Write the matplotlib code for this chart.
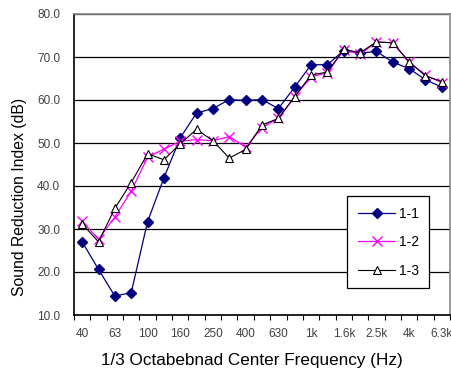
import numpy as np
import matplotlib
matplotlib.use('Agg')
import matplotlib.pyplot as plt

plt.rcParams['font.family'] = ['Liberation Sans', 'DejaVu Sans']

# 1/3 octave band centre frequencies
bands = ['40', '50', '63', '80', '100', '125', '160', '200', '250', '315', '400', '500',
         '630', '800', '1k', '1.25k', '1.6k', '2k', '2.5k', '3.15k', '4k', '5k', '6.3k']

# sound reduction index per band (dB)
s11 = [27.0, 20.6, 14.4, 15.2, 31.7, 41.9, 51.2, 57.0, 58.0, 60.1, 59.9, 60.1,
       58.0, 63.0, 68.2, 68.2, 71.5, 70.9, 71.3, 68.8, 67.3, 64.7, 63.0]
s12 = [31.8, 27.6, 32.8, 38.8, 46.7, 48.6, 50.4, 50.8, 50.5, 51.5, 49.0, 53.6,
       55.7, 60.7, 65.4, 66.3, 71.7, 70.6, 73.5, 73.3, 68.8, 65.8, 64.0]
s13 = [31.2, 27.0, 34.8, 40.8, 47.5, 46.1, 49.8, 53.2, 50.5, 46.5, 48.5, 54.2,
       55.7, 60.8, 65.8, 66.5, 71.8, 71.0, 73.5, 73.3, 68.9, 65.6, 64.3]

yticks = [10, 20, 30, 40, 50, 60, 70, 80]

fig = plt.figure(figsize=(4.52, 3.69), dpi=100)
ax = fig.add_axes([74 / 452, 54 / 369, 376 / 452, 301 / 369])

x = np.arange(len(bands))
ax.plot(x, s11, color='#000080', lw=0.9, marker='D', ms=5, label='1-1', zorder=3)
ax.plot(x, s12, color='#FF00FF', lw=0.9, marker='x', ms=6.5, mew=1.0, label='1-2', zorder=4)
ax.plot(x, s13, color='black', lw=0.8, marker='^', ms=5.5, mfc='white', mec='black',
        mew=0.8, label='1-3', zorder=5)

ax.set_xlim(-0.5, len(bands) - 0.5)
ax.set_ylim(10, 80)
ax.set_yticks(yticks)
ax.set_yticklabels(['%.1f' % v for v in yticks])
ax.yaxis.grid(True, color='black', lw=0.9)
ax.set_axisbelow(True)

# label every other band, tick marks on band boundaries
ax.set_xticks(x[::2])
ax.set_xticklabels(bands[::2])
ax.set_xticks(np.arange(-0.5, len(bands)), minor=True)
ax.tick_params(axis='x', which='major', length=0, pad=9.5, labelsize=8.5, labelcolor='#404040')
ax.tick_params(axis='x', which='minor', length=3.5, width=0.8, direction='out')
ax.tick_params(axis='y', length=0, pad=10, labelsize=8.5, labelcolor='#404040')

for side in ['top', 'right']:
    ax.spines[side].set_color('#888888')
    ax.spines[side].set_linewidth(1.2)
for side in ['left', 'bottom']:
    ax.spines[side].set_color('black')
    ax.spines[side].set_linewidth(1.2)

leg = ax.legend(loc='upper left', bbox_to_anchor=(0.727, 0.395), borderaxespad=0,
                fancybox=False, edgecolor='black', framealpha=1, fontsize=10,
                handlelength=2.7, labelspacing=1.05, borderpad=0.75, handletextpad=0.25)
leg.get_frame().set_linewidth(0.9)

fig.text(19.5 / 452, 1 - 197 / 369, 'Sound Reduction Index (dB)', rotation=90,
         ha='center', va='center', fontsize=11.3)
fig.text(252 / 452, 1 - 360 / 369, '1/3 Octabebnad Center Frequency (Hz)',
         ha='center', va='center', fontsize=12.3)

fig.savefig('out.png', dpi=100)
